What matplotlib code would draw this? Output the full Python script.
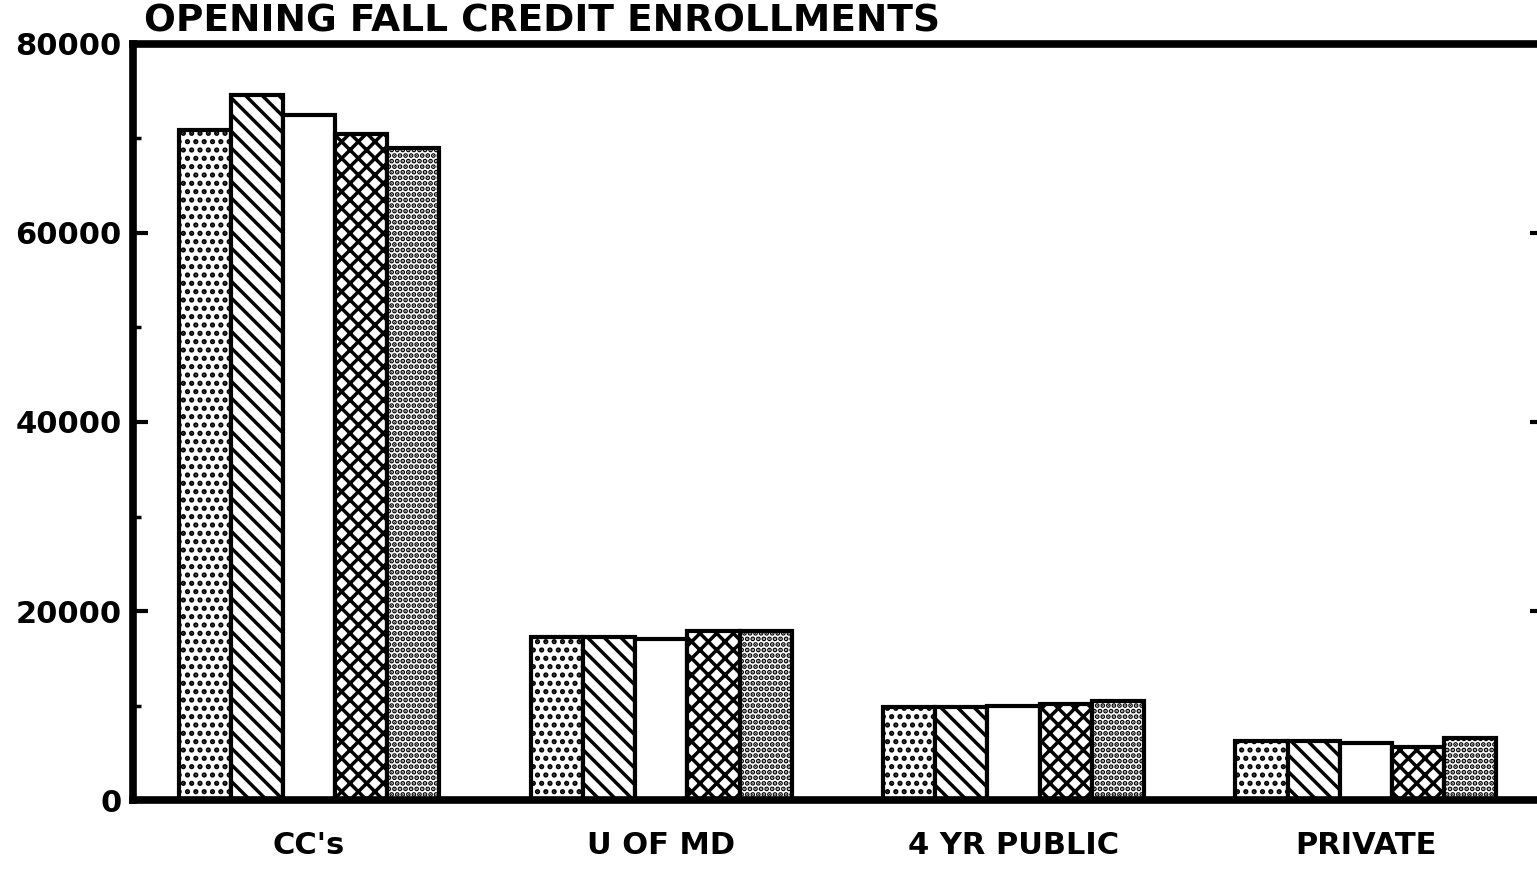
import matplotlib
matplotlib.use("Agg")
import matplotlib.pyplot as plt
from matplotlib.ticker import MultipleLocator
import numpy as np

# values (5 series per sector, no legend on the page)
categories = ["CC's", "U OF MD", "4 YR PUBLIC", "PRIVATE"]
series_1 = [70900, 17300, 9800, 6200]
series_2 = [74600, 17200, 9800, 6200]
series_3 = [72500, 17000, 9900, 6000]
series_4 = [70500, 17900, 10200, 5600]
series_5 = [69000, 17900, 10500, 6600]
y_ticks = [0, 20000, 40000, 60000, 80000]

series = [series_1, series_2, series_3, series_4, series_5]
hatches = ["..", "\\\\", "", "xx", "..."]

plt.rcParams["font.family"] = ["DejaVu Sans"]
plt.rcParams["font.weight"] = "bold"
plt.rcParams["hatch.linewidth"] = 2.5

fig = plt.figure(figsize=(15.37, 8.71), dpi=100, facecolor="w")
ax = fig.add_axes([0.0865, 0.0815, 0.919, 0.868])

x = np.arange(len(categories))
w = 0.148
for i, vals in enumerate(series):
    ax.bar(x + (i - 2) * w, vals, width=w, color="white", edgecolor="black",
           linewidth=3, hatch=hatches[i])

ax.set_xlim(-0.5, 3.51)
ax.set_ylim(0, 80000)
ax.set_yticks(y_ticks)
ax.set_yticklabels([str(t) for t in y_ticks], fontsize=22, fontweight="bold")
ax.yaxis.set_minor_locator(MultipleLocator(10000))
ax.set_xticks(x)
ax.set_xticklabels(categories, fontsize=22, fontweight="bold")

ax.tick_params(axis="y", which="major", direction="in", length=11, width=3,
               left=True, right=True, pad=8)
ax.tick_params(axis="y", which="minor", direction="in", length=6, width=2.5,
               left=True, right=True)
ax.tick_params(axis="x", length=0, pad=22)

for side in ["top", "bottom", "left", "right"]:
    ax.spines[side].set_linewidth(5.5)

fig.text(0.353, 1 - 32 / 871, "OPENING FALL CREDIT ENROLLMENTS",
         fontsize=27, fontweight="bold", ha="center", va="baseline")

fig.savefig("out.png", dpi=100)
